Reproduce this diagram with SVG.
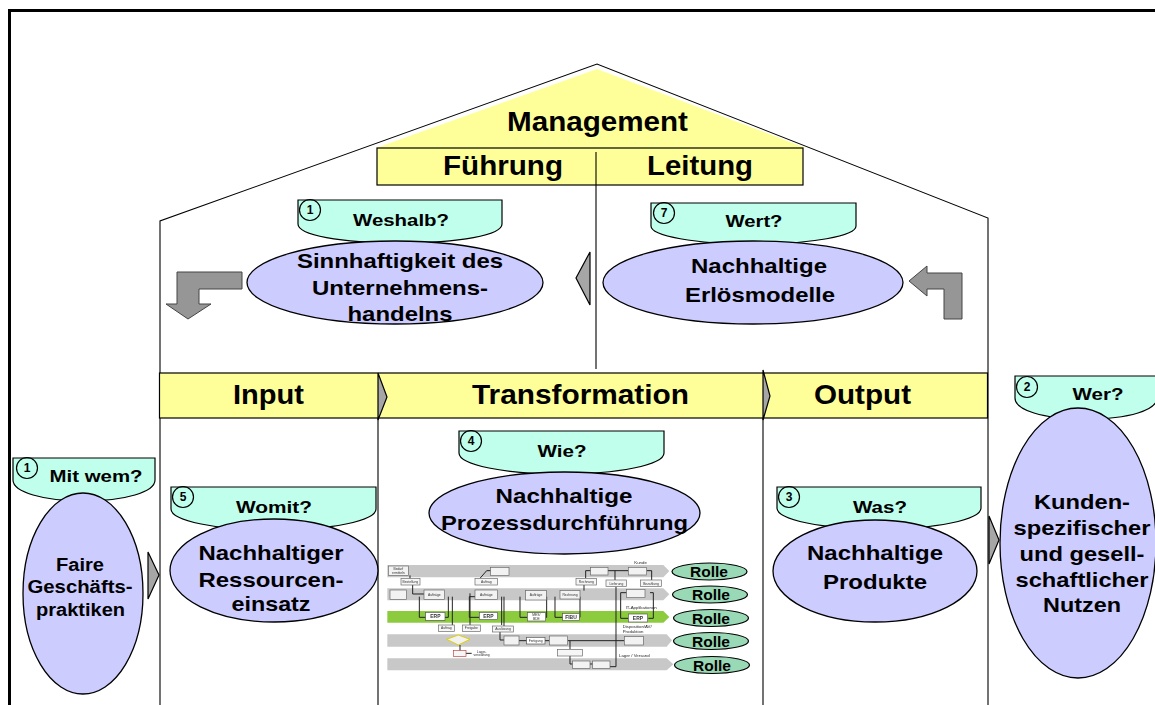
<svg xmlns="http://www.w3.org/2000/svg" width="1155" height="705" viewBox="0 0 1155 705">
<style>
text{font-family:"Liberation Sans",Arial,sans-serif;font-weight:700;text-anchor:middle;fill:#000}
.h{font-size:27px}.e{font-size:20.5px}.q{font-size:16.5px}.n{font-size:12px}
.f{font-size:17.5px}.k{font-size:20.5px}
.tab{fill:#bfffec;stroke:#000;stroke-width:1.2}
.ell{fill:#ccccff;stroke:#000;stroke-width:1.3}
.num{fill:none;stroke:#000;stroke-width:1.2}
.yel{fill:#ffff99;stroke:#000;stroke-width:1.2}
.arr{fill:#969696;stroke:#444;stroke-width:1}
.tri{fill:#a6a6a6;stroke:#000;stroke-width:1.2}
.wall{fill:none;stroke:#000;stroke-width:1.1}
.rolle{fill:#99d9b5;stroke:#000;stroke-width:1.2}
.r{font-size:14px}
.band{fill:#c8c8c8}
.box{fill:#f2f2f2;stroke:#666;stroke-width:2}
.doc{fill:#f6f6f6;stroke:#666;stroke-width:2}
.wbox{fill:#fff;stroke:#555;stroke-width:2}
.ln{fill:none;stroke:#222;stroke-width:3}
.t{font-size:10px;font-weight:400;fill:#333}
.l{font-size:13px;font-weight:400;fill:#222;text-anchor:start}
.b{font-size:15px;font-weight:700;fill:#333}
</style>
<defs><filter id="soft" x="-5%" y="-5%" width="110%" height="110%"><feGaussianBlur stdDeviation="2.2"/></filter></defs>

<g id="frame">
<path d="M9.5,705V10.5H1155" fill="none" stroke="#000" stroke-width="3"/>
</g>

<g id="house">
<path d="M376,148L597,69L806,148Z" fill="#ffff99"/>
<path class="wall" d="M160,705V221L597,64L988,218V705"/>
<path class="wall" d="M378,418V705M763,418V705"/>
</g>

<g id="management"><text class="h" x="597.500" y="131" textLength="181" lengthAdjust="spacingAndGlyphs">Management</text></g>
<g id="fuehrung-leitung">
<rect class="yel" x="377" y="148" width="426" height="37"/>
<text class="h" x="503" y="175" textLength="120" lengthAdjust="spacingAndGlyphs">Führung</text>
<text class="h" x="700" y="175" textLength="106" lengthAdjust="spacingAndGlyphs">Leitung</text>
<path class="wall" d="M596,152V369"/>
</g>

<g id="band">
<rect class="yel" x="159.500" y="373" width="828" height="45"/>
<text class="h" x="268.500" y="404" textLength="71" lengthAdjust="spacingAndGlyphs">Input</text>
<text class="h" x="580.500" y="404" textLength="217" lengthAdjust="spacingAndGlyphs">Transformation</text>
<text class="h" x="862.500" y="404" textLength="97" lengthAdjust="spacingAndGlyphs">Output</text>
</g>

<g id="connectors">
<path class="arr" d="M177,272H242V289H199V304H211L188,319L166,304H177Z"/>
<path class="arr" d="M962,273V319H944V289H927V296L909,281L927,266V273Z"/>
<path class="tri" d="M590,252L576,278L590,305Z"/>
<path class="tri" d="M378,373L387,397L378,420Z"/>
<path class="tri" d="M763,370L770,396L763,420Z"/>
<path class="tri" d="M148,552L159,575L148,599Z"/>
<path class="tri" d="M989,516L999,540L989,564Z"/>
</g>

<g id="node-weshalb">
<path class="tab" d="M298,200H502V224C502,235 460,243 400,243C340,243 298,235 298,224Z"/>
<circle class="num" cx="310" cy="210" r="10.500"/><text class="n" x="310" y="214">1</text>
<text class="q" x="401" y="226" textLength="96" lengthAdjust="spacingAndGlyphs">Weshalb?</text>
<ellipse class="ell" cx="395" cy="282.500" rx="148" ry="41.500"/>
<text class="e" x="400" y="268" textLength="206" lengthAdjust="spacingAndGlyphs">Sinnhaftigkeit des</text>
<text class="e" x="400" y="295" textLength="176" lengthAdjust="spacingAndGlyphs">Unternehmens-</text>
<text class="e" x="400" y="321" textLength="105" lengthAdjust="spacingAndGlyphs">handelns</text>
</g>

<g id="node-wert">
<path class="tab" d="M651,203H856V226C856,236 812,244 753,244C695,244 651,236 651,226Z"/>
<circle class="num" cx="664" cy="213" r="10.500"/><text class="n" x="664" y="217">7</text>
<text class="q" x="754" y="227" textLength="57" lengthAdjust="spacingAndGlyphs">Wert?</text>
<ellipse class="ell" cx="753" cy="282.500" rx="150" ry="41.500"/>
<text class="e" x="759" y="273" textLength="136" lengthAdjust="spacingAndGlyphs">Nachhaltige</text>
<text class="e" x="760" y="302" textLength="150" lengthAdjust="spacingAndGlyphs">Erlösmodelle</text>
</g>

<g id="node-mit-wem">
<path class="tab" d="M13,458H155V480C155,492 125,501 84,501C43,501 13,492 13,480Z"/>
<circle class="num" cx="27" cy="468" r="10.500"/><text class="n" x="27" y="472">1</text>
<text class="q" x="96" y="482" textLength="93" lengthAdjust="spacingAndGlyphs">Mit wem?</text>
<ellipse class="ell" cx="83" cy="593.500" rx="60" ry="100.500"/>
<text class="f" x="80" y="571" textLength="48" lengthAdjust="spacingAndGlyphs">Faire</text>
<text class="f" x="80" y="593" textLength="105" lengthAdjust="spacingAndGlyphs">Geschäfts-</text>
<text class="f" x="80.500" y="616" textLength="89" lengthAdjust="spacingAndGlyphs">praktiken</text>
</g>

<g id="node-womit">
<path class="tab" d="M171,487H376V509C376,521 330,530 274,530C217,530 171,521 171,509Z"/>
<circle class="num" cx="183" cy="497" r="10.500"/><text class="n" x="183" y="501">5</text>
<text class="q" x="274" y="513" textLength="76" lengthAdjust="spacingAndGlyphs">Womit?</text>
<ellipse class="ell" cx="274" cy="570.500" rx="104" ry="51.500"/>
<text class="e" x="271" y="560" textLength="145" lengthAdjust="spacingAndGlyphs">Nachhaltiger</text>
<text class="e" x="271" y="587" textLength="145" lengthAdjust="spacingAndGlyphs">Ressourcen-</text>
<text class="e" x="271" y="611" textLength="79" lengthAdjust="spacingAndGlyphs">einsatz</text>
</g>

<g id="node-wie">
<path class="tab" d="M459,431H664V453C664,465 618,474 561,474C505,474 459,465 459,453Z"/>
<circle class="num" cx="471" cy="441" r="10.500"/><text class="n" x="471" y="445">4</text>
<text class="q" x="562" y="457" textLength="49" lengthAdjust="spacingAndGlyphs">Wie?</text>
<ellipse class="ell" cx="564.500" cy="513" rx="135.500" ry="41"/>
<text class="e" x="564" y="503" textLength="137" lengthAdjust="spacingAndGlyphs">Nachhaltige</text>
<text class="e" x="564.500" y="530" textLength="247" lengthAdjust="spacingAndGlyphs">Prozessdurchführung</text>
</g>

<g id="node-was">
<path class="tab" d="M777,487H981V508C981,520 935,529 879,529C823,529 777,520 777,508Z"/>
<circle class="num" cx="789" cy="497" r="10.500"/><text class="n" x="789" y="501">3</text>
<text class="q" x="880" y="513" textLength="54" lengthAdjust="spacingAndGlyphs">Was?</text>
<ellipse class="ell" cx="875" cy="571" rx="102" ry="51"/>
<text class="e" x="875" y="560" textLength="136" lengthAdjust="spacingAndGlyphs">Nachhaltige</text>
<text class="e" x="875" y="589" textLength="104" lengthAdjust="spacingAndGlyphs">Produkte</text>
</g>

<g id="node-wer">
<path class="tab" d="M1015,376H1157V398C1157,410 1130,419 1086,419C1042,419 1015,410 1015,398Z"/>
<circle class="num" cx="1027" cy="387" r="10.500"/><text class="n" x="1027" y="391">2</text>
<text class="q" x="1098" y="400" textLength="51" lengthAdjust="spacingAndGlyphs">Wer?</text>
<ellipse class="ell" cx="1078" cy="543" rx="78" ry="135"/>
<text class="k" x="1082" y="509" textLength="96" lengthAdjust="spacingAndGlyphs">Kunden-</text>
<text class="k" x="1082" y="535" textLength="137" lengthAdjust="spacingAndGlyphs">spezifischer</text>
<text class="k" x="1082" y="561" textLength="125" lengthAdjust="spacingAndGlyphs">und gesell-</text>
<text class="k" x="1082" y="587" textLength="133" lengthAdjust="spacingAndGlyphs">schaftlicher</text>
<text class="k" x="1082" y="612" textLength="78" lengthAdjust="spacingAndGlyphs">Nutzen</text>
</g>

<g id="prozess" transform="translate(380,550) scale(.33333)" filter="url(#soft)">
<path class="band" d="M22,45H850L868,63L850,82H22Z"/>
<path class="band" d="M22,115H850L868,133L850,151H22Z"/>
<path fill="#8ccb3c" d="M22,183H850L868,201L850,218H22Z"/>
<path class="band" d="M22,253H860L876,271L860,290H22Z"/>
<path class="band" d="M22,325H860L880,343L860,361H22Z"/>
<path class="ln" d="M90,76V90M98,105V132H132M118,140V202H137M205,140V202H195M217,140V225M300,85L320,62H332M270,130V225M285,140H268V202H298M365,140V225M372,140V228M420,140V202H442M500,140V202H497M525,140V202H548M600,140V202H598M612,122V105M617,85V62H632M684,62H745M705,62V90M800,62H815V90M708,110V350H690M722,128H740M722,128V205H745M810,128H820V205H805M360,245V270H372M417,272H440M495,272H508M563,272H733M570,272V298M570,318V342H578M630,342H638M240,285V302M258,310H275"/>
<rect class="box" x="25" y="48" width="60" height="28"/><text class="t" x="55" y="60">Bedarf</text><text class="t" x="55" y="71">ermitteln</text>
<rect class="box" x="332" y="52" width="55" height="25"/>
<rect class="box" x="632" y="52" width="52" height="23"/>
<rect class="box" x="745" y="52" width="55" height="23"/>
<rect class="doc" x="63" y="85" width="57" height="20"/><text class="t" x="91" y="99">Bestellung</text>
<rect class="doc" x="285" y="85" width="68" height="20"/><text class="t" x="319" y="99">Auftrag</text>
<rect class="doc" x="588" y="85" width="62" height="20"/><text class="t" x="619" y="99">Rechnung</text>
<rect class="doc" x="678" y="90" width="62" height="20"/><text class="t" x="709" y="104">Lieferung</text>
<rect class="doc" x="782" y="90" width="62" height="20"/><text class="t" x="813" y="104">Bezahlung</text>
<rect class="box" x="30" y="120" width="50" height="28"/>
<rect class="box" x="132" y="120" width="62" height="28"/><text class="t" x="163" y="137">Aufträge</text>
<rect class="box" x="285" y="120" width="68" height="28"/><text class="t" x="319" y="137">Aufträge</text>
<rect class="box" x="437" y="122" width="62" height="28"/><text class="t" x="468" y="139">Aufträge</text>
<rect class="box" x="540" y="122" width="60" height="25"/><text class="t" x="570" y="138">Rechnung</text>
<rect class="box" x="740" y="118" width="55" height="25"/>
<rect class="wbox" x="137" y="187" width="58" height="24"/><text class="b" x="166" y="205">ERP</text>
<rect class="wbox" x="298" y="187" width="55" height="22"/><text class="b" x="325" y="204">ERP</text>
<rect class="wbox" x="442" y="188" width="55" height="25"/><text class="t" x="469" y="199">MES/</text><text class="t" x="469" y="210">BDE</text>
<rect class="wbox" x="548" y="190" width="50" height="22"/><text class="b" x="573" y="206">FIBU</text>
<rect class="wbox" x="745" y="192" width="58" height="24"/><text class="b" x="774" y="209">ERP</text>
<rect class="doc" x="175" y="225" width="48" height="20"/><text class="t" x="199" y="238">Auftrag</text>
<rect class="doc" x="247" y="225" width="55" height="20"/><text class="t" x="274" y="238">Freigabe</text>
<rect class="doc" x="338" y="228" width="62" height="18"/><text class="t" x="369" y="241">Auslösung</text>
<path d="M200,268L235,255L270,268L235,285Z" fill="#f2f2f2" stroke="#e0d000" stroke-width="3"/>
<rect class="box" x="372" y="258" width="45" height="27"/>
<rect class="wbox" x="440" y="262" width="55" height="20"/><text class="t" x="467" y="276">Fertigung</text>
<rect class="box" x="508" y="258" width="55" height="27"/>
<rect class="box" x="733" y="260" width="57" height="25"/>
<rect class="doc" x="532" y="298" width="75" height="20"/>
<rect x="220" y="302" width="38" height="18" fill="#f6f6f6" stroke="#c04040" stroke-width="2"/>
<text class="t" x="305" y="308">Lager-</text><text class="t" x="305" y="318">verwaltung</text>
<rect class="box" x="578" y="333" width="52" height="22"/>
<rect class="box" x="638" y="333" width="52" height="22"/>
<text class="l" x="763" y="41">Kunde</text>
<text class="l" x="737" y="178">IT-Applikationen</text>
<text class="l" x="728" y="234">Disposition/AV/</text>
<text class="l" x="728" y="249">Produktion</text>
<text class="l" x="717" y="320">Lager / Versand</text>
</g>

<g id="rolle-1"><ellipse class="rolle" cx="709.500" cy="571.500" rx="37.500" ry="8.500"/><text class="r" x="709" y="577" textLength="38" lengthAdjust="spacingAndGlyphs">Rolle</text></g>
<g id="rolle-2"><ellipse class="rolle" cx="710" cy="594.500" rx="37.500" ry="8.500"/><text class="r" x="711" y="600" textLength="38" lengthAdjust="spacingAndGlyphs">Rolle</text></g>
<g id="rolle-3"><ellipse class="rolle" cx="711" cy="618" rx="37.500" ry="8.500"/><text class="r" x="711" y="624" textLength="38" lengthAdjust="spacingAndGlyphs">Rolle</text></g>
<g id="rolle-4"><ellipse class="rolle" cx="711" cy="641" rx="37.500" ry="8.500"/><text class="r" x="711" y="647" textLength="38" lengthAdjust="spacingAndGlyphs">Rolle</text></g>
<g id="rolle-5"><ellipse class="rolle" cx="712" cy="665" rx="37.500" ry="8.500"/><text class="r" x="712" y="671" textLength="38" lengthAdjust="spacingAndGlyphs">Rolle</text></g>
</svg>
